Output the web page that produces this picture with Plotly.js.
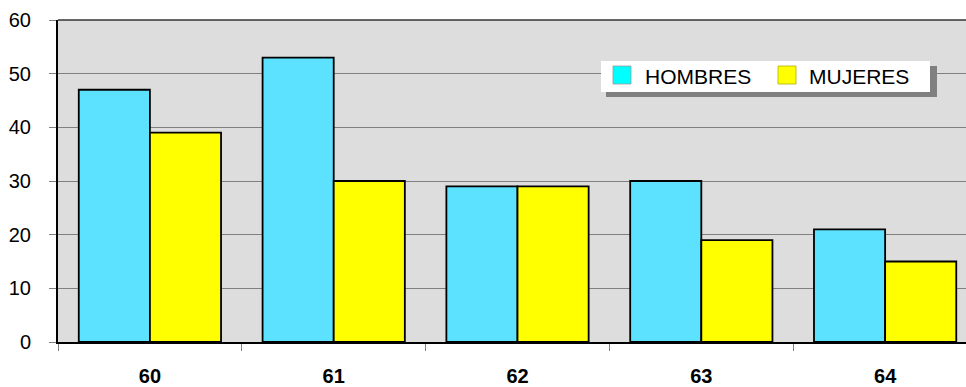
<!DOCTYPE html>
<html><head><meta charset="utf-8">
<script src="https://cdn.plot.ly/plotly-3.0.1.min.js"></script>
<style>html,body{margin:0;padding:0;background:#fff}#c{width:966px;height:387px}</style>
</head><body><div id="c"></div>
<script>
const categories = ['60','61','62','63','64'];
const seriesNames = ['HOMBRES','MUJERES'];
const hombres = [47,53,29,30,21];
const mujeres = [39,30,29,19,15];
const yTicks = [0,10,20,30,40,50,60];

const W=966,H=387,ML=58,MR=0,MT=20,MB=45;
const pw=W-ML-MR, ph=H-MT-MB;
const px=x=>(x-ML)/pw, py=y=>(H-MB-y)/ph;

const traces=[
 {type:'bar',x:categories,y:hombres,name:seriesNames[0],showlegend:false,
  marker:{color:'#5CE1FF',line:{color:'#000',width:1.8}}},
 {type:'bar',x:categories,y:mujeres,name:seriesNames[1],showlegend:false,
  marker:{color:'#FFFF00',line:{color:'#000',width:1.8}}}
];

const shapes=[
 {type:'rect',xref:'paper',yref:'paper',x0:px(606),x1:px(937),y0:py(97),y1:py(66),fillcolor:'#808080',line:{width:0},layer:'above'},
 {type:'rect',xref:'paper',yref:'paper',x0:px(601),x1:px(930),y0:py(92),y1:py(61),fillcolor:'#ffffff',line:{width:0},layer:'above'},
 {type:'rect',xref:'paper',yref:'paper',x0:px(613),x1:px(631),y0:py(84),y1:py(66),fillcolor:'#00FFFF',line:{color:'#9a9a9a',width:0.8},layer:'above'},
 {type:'rect',xref:'paper',yref:'paper',x0:px(778),x1:px(796),y0:py(84),y1:py(66),fillcolor:'#FFFF00',line:{color:'#b0b000',width:0.8},layer:'above'}
];
const annotations=[
 {xref:'paper',yref:'paper',x:px(643),y:py(77),text:seriesNames[0],showarrow:false,xanchor:'left',yanchor:'middle',font:{family:'Arial, Liberation Sans',size:21,color:'#000'}},
 {xref:'paper',yref:'paper',x:px(807),y:py(77),text:seriesNames[1],showarrow:false,xanchor:'left',yanchor:'middle',font:{family:'Arial, Liberation Sans',size:21,color:'#000'}}
];

const layout={
 width:W,height:H,margin:{l:ML,r:MR,t:MT,b:MB,pad:0},
 paper_bgcolor:'#fff',plot_bgcolor:'#DDDDDD',
 barmode:'group',bargap:0.226,bargroupgap:0,
 showlegend:false,
 font:{family:'Arial, Liberation Sans',size:20,color:'#000'},
 xaxis:{type:'category',range:[-0.5,4.44],tickson:'boundaries',ticks:'outside',ticklen:7,tickcolor:'#808080',tickwidth:1,
   showline:true,linecolor:'#000',linewidth:2,mirror:false,showgrid:false,zeroline:false,
   tickfont:{family:'Arial, Liberation Sans',size:20,color:'#000',weight:'bold'},ticklabelstandoff:15,fixedrange:true},
 yaxis:{range:[0,60],tickvals:yTicks,ticktext:yTicks.map(String),ticks:'outside',ticklen:7,tickcolor:'#808080',
   showline:true,linecolor:'#000',linewidth:2,mirror:false,showgrid:true,gridcolor:'#808080',gridwidth:1,zeroline:false,
   tickfont:{family:'Arial, Liberation Sans',size:20,color:'#000'},ticklabelstandoff:14},
 shapes:shapes.concat([{type:'line',xref:'paper',yref:'paper',x0:0,x1:1,y0:1,y1:1,line:{color:'#333',width:1.5}}]),
 annotations:annotations
};
Plotly.newPlot('c',traces,layout,{displayModeBar:false,staticPlot:true});
</script></body></html>
